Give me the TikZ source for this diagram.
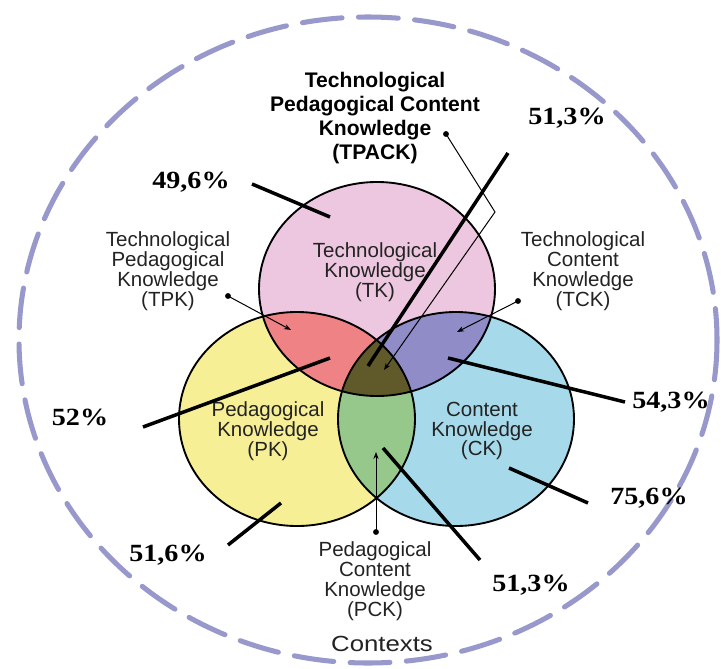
\documentclass[tikz,border=0pt]{standalone}
\usepackage{fontspec}
\newfontfamily\arialf{Liberation Sans}
\newfontfamily\timesf{Liberation Serif}
\usetikzlibrary{arrows.meta}
\definecolor{tkcol}{RGB}{237,199,224}
\definecolor{pkcol}{RGB}{247,239,150}
\definecolor{ckcol}{RGB}{166,218,234}
\definecolor{tpkcol}{RGB}{239,130,132}
\definecolor{tckcol}{RGB}{143,140,200}
\definecolor{pckcol}{RGB}{150,200,140}
\definecolor{tpackcol}{RGB}{96,90,42}
\definecolor{ctxcol}{RGB}{152,152,204}
\definecolor{txtcol}{RGB}{35,35,35}
\begin{document}
\begin{tikzpicture}[x=0.03cm,y=-0.03cm,
  circ/.style={draw=black,line width=1.6pt},
  ctxline/.style={draw=ctxcol,line width=4.3pt,line cap=round,dash pattern=on 34pt off 14pt},
  lbl/.style={font=\arialf\fontsize{17.5}{17}\selectfont,align=center,text=txtcol,inner sep=0pt},
  ttl/.style={font=\arialf\bfseries\fontsize{18}{20.6}\selectfont,align=center,text=black,inner sep=0pt},
  pct/.style={font=\timesf\bfseries\fontsize{24}{24}\selectfont,text=black,inner sep=0pt,yscale=0.88},
  ctx/.style={font=\arialf\fontsize{22}{22}\selectfont,text=txtcol,inner sep=0pt,yscale=0.85},
  ptr/.style={line width=3pt,black},
  thinarr/.style={line width=0.85pt,black,-{Stealth[length=6pt,width=4.5pt]}},
  thinseg/.style={line width=0.85pt,black},
  dotn/.style={circle,fill=black,inner sep=0pt,minimum size=5pt}
]
\useasboundingbox (0,0) rectangle (721,669);
\fill[white] (0,0) rectangle (721,669);

% centres of the three knowledge circles
\coordinate (tkc) at (377,289);
\coordinate (pkc) at (297,419);
\coordinate (ckc) at (456,419);

% outer context ring
\draw[ctxline] (368,340) ellipse [x radius=349, y radius=323];

% fills
\fill[pkcol] (pkc) ellipse [x radius=118, y radius=107];
\fill[ckcol] (ckc) ellipse [x radius=118, y radius=107];
\fill[tkcol] (tkc) ellipse [x radius=118, y radius=107];
\begin{scope}
  \clip (tkc) ellipse [x radius=118, y radius=107];
  \fill[tpkcol] (pkc) ellipse [x radius=118, y radius=107];
  \fill[tckcol] (ckc) ellipse [x radius=118, y radius=107];
\end{scope}
\begin{scope}
  \clip (pkc) ellipse [x radius=118, y radius=107];
  \fill[pckcol] (ckc) ellipse [x radius=118, y radius=107];
\end{scope}
\begin{scope}
  \clip (tkc) ellipse [x radius=118, y radius=107];
  \clip (pkc) ellipse [x radius=118, y radius=107];
  \fill[tpackcol] (ckc) ellipse [x radius=118, y radius=107];
\end{scope}
\draw[circ] (pkc) ellipse [x radius=118, y radius=107];
\draw[circ] (ckc) ellipse [x radius=118, y radius=107];
\draw[circ] (tkc) ellipse [x radius=118, y radius=107];

% texts
\node[ttl] (title) at (375,118) {Technological\\Pedagogical Content\\Knowledge\\(TPACK)};
\node[lbl] (tkl) at (375,272) {Technological\\Knowledge\\(TK)};
\node[lbl] (pkl) at (268,431) {Pedagogical\\Knowledge\\(PK)};
\node[lbl] (ckl) at (482,431) {Content\\Knowledge\\(CK)};
\node[lbl] (tpkl) at (168,271) {Technological\\Pedagogical\\Knowledge\\(TPK)};
\node[lbl] (tckl) at (583,271) {Technological\\Content\\Knowledge\\(TCK)};
\node[lbl] (pckl) at (375,581) {Pedagogical\\Content\\Knowledge\\(PCK)};
\node[ctx] (ctxl) at (382,644) {Contexts};

% thin pointer arrows
\node[dotn] (tpackdot) at (446,134) {};
\node[dotn] (tpkdot) at (228,296) {};
\node[dotn] (tckdot) at (518,301) {};
\node[dotn] (pckdot) at (376,532) {};
\coordinate (tpackbend) at (495,212);
\coordinate (tpacktip) at (384,370);
\coordinate (tpktip) at (291,330);
\coordinate (tcktip) at (457,332);
\coordinate (pcktip) at (376,452);
\draw[thinseg] (tpackdot.center) -- (tpackbend);
\draw[thinarr] (tpackbend) -- (tpacktip);
\draw[thinarr] (tpkdot.center) -- (tpktip);
\draw[thinarr] (tckdot.center) -- (tcktip);
\draw[thinarr] (pckdot.center) -- (pcktip);

% percentages
\node[pct] (p513a) at (567,118) {51,3\%};
\node[pct] (p496) at (191,182) {49,6\%};
\node[pct] (p52) at (80,417) {52\%};
\node[pct] (p543) at (671,402) {54,3\%};
\node[pct] (p756) at (649,498) {75,6\%};
\node[pct] (p516) at (168,555) {51,6\%};
\node[pct] (p513b) at (531,585) {51,3\%};

% percentage pointer lines
\coordinate (s513a) at (508,153); \coordinate (e513a) at (368,366);
\coordinate (s496) at (252,184);  \coordinate (e496) at (330,217);
\coordinate (s52) at (143,427);   \coordinate (e52) at (330,358);
\coordinate (s543) at (625,402);  \coordinate (e543) at (448,358);
\coordinate (s756) at (588,503);  \coordinate (e756) at (509,468);
\coordinate (s516) at (228,545);  \coordinate (e516) at (281,503);
\coordinate (s513b) at (480,560); \coordinate (e513b) at (383,448);
\draw[ptr] (s513a) -- (e513a);
\draw[ptr] (s496) -- (e496);
\draw[ptr] (s52) -- (e52);
\draw[ptr] (s543) -- (e543);
\draw[ptr] (s756) -- (e756);
\draw[ptr] (s516) -- (e516);
\draw[ptr] (s513b) -- (e513b);
\end{tikzpicture}
\end{document}
